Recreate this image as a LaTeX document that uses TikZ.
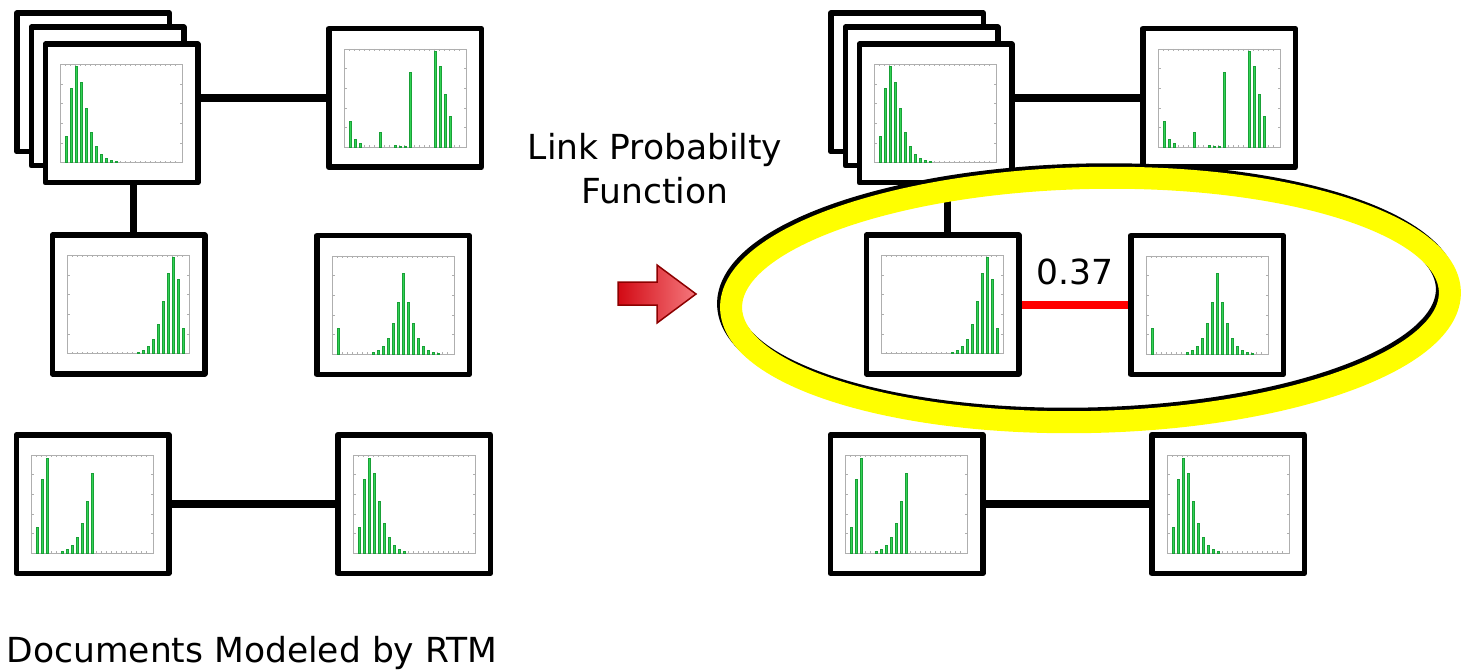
\documentclass[tikz,border=0pt]{standalone}
\usepackage{fontspec}
\setmainfont{DejaVu Sans}
\definecolor{bargreen}{RGB}{50,210,85}
\definecolor{baredge}{RGB}{25,160,55}
\definecolor{framegray}{RGB}{175,175,175}
\definecolor{linkred}{RGB}{255,0,0}
\definecolor{hiyellow}{RGB}{255,255,0}
\definecolor{arrdark}{RGB}{140,0,0}
\definecolor{arrleft}{RGB}{210,10,20}
\definecolor{arrright}{RGB}{245,120,125}
\newcommand\drawhist[2]{%
  \draw[plotframe] ([shift={(-61,-49)}]#1.center) rectangle ([shift={(61,49)}]#1.center);
  \foreach \i in {1,...,23}{%
    \draw[plottick] ([shift={({-61+\i*5},-49)}]#1.center) -- ++(0,1.6);
    \draw[plottick] ([shift={({-61+\i*5},49)}]#1.center) -- ++(0,-1.6);
  }
  \foreach \j in {1,...,4}{%
    \draw[plottick] ([shift={(-61,{49-\j*19.6})}]#1.center) -- ++(2.5,0);
    \draw[plottick] ([shift={(61,{49-\j*19.6})}]#1.center) -- ++(-2.5,0);
  }
  \foreach \k/\v in {#2}{%
    \filldraw[histbar] ([shift={({-61+(1.2+\k)*5-0.9},49)}]#1.center) rectangle ([shift={({-61+(1.2+\k)*5+0.9},{49-\v*98})}]#1.center);
  }
}
\begin{document}
\begin{tikzpicture}[x=1pt,y=-1pt,
  docbox/.style={draw, line width=5.5pt, fill=white, minimum width=152.5pt, minimum height=138.5pt, inner sep=0pt, line join=round},
  link/.style={line width=7.5pt},
  rlink/.style={line width=8pt, draw=linkred},
  plotframe/.style={draw=framegray, line width=0.8pt},
  plottick/.style={draw=framegray, line width=0.5pt},
  histbar/.style={fill=bargreen, draw=baredge, line width=0.3pt},
  lbl/.style={inner sep=0pt, font=\fontsize{34.5}{44}\selectfont},
  bigarrow/.style={left color=arrleft, right color=arrright, draw=arrdark, line width=1.5pt, line join=miter},
  ring/.style={line width=22pt, draw=hiyellow},
  ringshadow/.style={line width=22pt, draw=black}
]
\useasboundingbox (0,0) rectangle (1462,671);

% ---------- left panel ----------
\node[docbox] (a1) at (93,82.5) {};
\node[docbox] (a2) at (107.5,96.5) {};
\node[docbox] (a) at (121.5,113.5) {};
\node[docbox] (b) at (405,98) {};
\node[docbox] (c) at (128.5,304.5) {};
\node[docbox] (d) at (393,305) {};
\node[docbox] (e) at (92.5,504) {};
\node[docbox] (f) at (414,504) {};

\draw[link] (b.west -| a.east) -- (b.west);
\draw[link] ([xshift=12pt]a.south) -- ([xshift=12pt]a.south |- c.north);
\draw[link] (e.east |- f.west) -- (f.west);

\drawhist{a}{0/.27,1/.76,2/.98,3/.82,4/.55,5/.31,6/.17,7/.09,8/.04,9/.02,10/.01}
\drawhist{b}{0/.26,1/.08,2/.035,6/.15,9/.015,10/.01,11/.01,12/.76,17/.98,18/.82,19/.54,20/.31}
\drawhist{c}{13/.01,14/.03,15/.08,16/.15,17/.30,18/.53,19/.82,20/.98,21/.76,22/.26}
\drawhist{d}{0/.26,7/.02,8/.04,9/.08,10/.16,11/.31,12/.53,13/.82,14/.53,15/.31,16/.16,17/.08,18/.04,19/.02,20/.01}
\drawhist{e}{0/.26,1/.75,2/.97,5/.02,6/.04,7/.08,8/.16,9/.30,10/.53,11/.81}
\drawhist{f}{0/.26,1/.75,2/.97,3/.81,4/.53,5/.30,6/.16,7/.08,8/.04,9/.02}

\node[lbl, anchor=base west] (docs) at (6.5,662) {Documents Modeled by RTM};

% ---------- middle ----------
\node[lbl, align=center, anchor=north] (lpf) at (655,133) {Link Probabilty\\Function};
\filldraw[bigarrow] (618,282) -- (657,282) -- (657,265) -- (696,294) -- (657,323) -- (657,305) -- (618,305) -- cycle;

% ---------- right panel ----------
\node[docbox] (ra1) at (907,82.5) {};
\node[docbox] (ra2) at (921.5,96.5) {};
\node[docbox] (ra) at (935.5,113.5) {};
\node[docbox] (rb) at (1219,98) {};
\node[docbox] (rc) at (942.5,304.5) {};
\node[docbox] (rd) at (1207,305) {};
\node[docbox] (re) at (906.5,504) {};
\node[docbox] (rf) at (1228,504) {};

\draw[link] (rb.west -| ra.east) -- (rb.west);
\draw[link] ([xshift=12pt]ra.south) -- ([xshift=12pt]ra.south |- rc.north);
\draw[link] (re.east |- rf.west) -- (rf.west);
\draw[rlink] (rc.east) -- node[lbl, anchor=base, yshift=20.5pt] (prob) {0.37} (rc.east -| rd.west);

\drawhist{ra}{0/.27,1/.76,2/.98,3/.82,4/.55,5/.31,6/.17,7/.09,8/.04,9/.02,10/.01}
\drawhist{rb}{0/.26,1/.08,2/.035,6/.15,9/.015,10/.01,11/.01,12/.76,17/.98,18/.82,19/.54,20/.31}
\drawhist{rc}{13/.01,14/.03,15/.08,16/.15,17/.30,18/.53,19/.82,20/.98,21/.76,22/.26}
\drawhist{rd}{0/.26,7/.02,8/.04,9/.08,10/.16,11/.31,12/.53,13/.82,14/.53,15/.31,16/.16,17/.08,18/.04,19/.02,20/.01}
\drawhist{re}{0/.26,1/.75,2/.97,5/.02,6/.04,7/.08,8/.16,9/.30,10/.53,11/.81}
\drawhist{rf}{0/.26,1/.75,2/.97,3/.81,4/.53,5/.30,6/.16,7/.08,8/.04,9/.02}

% ---------- highlight ring ----------
\coordinate (ell) at (1090.5,300);
\coordinate (ellsh) at (1087.5,296.5);
\draw[ringshadow, rotate around={1.3:(ellsh)}] (ellsh) ellipse [x radius=359.5, y radius=122];
\draw[ring, rotate around={1.3:(ell)}] (ell) ellipse [x radius=359.5, y radius=122];
\end{tikzpicture}
\end{document}
